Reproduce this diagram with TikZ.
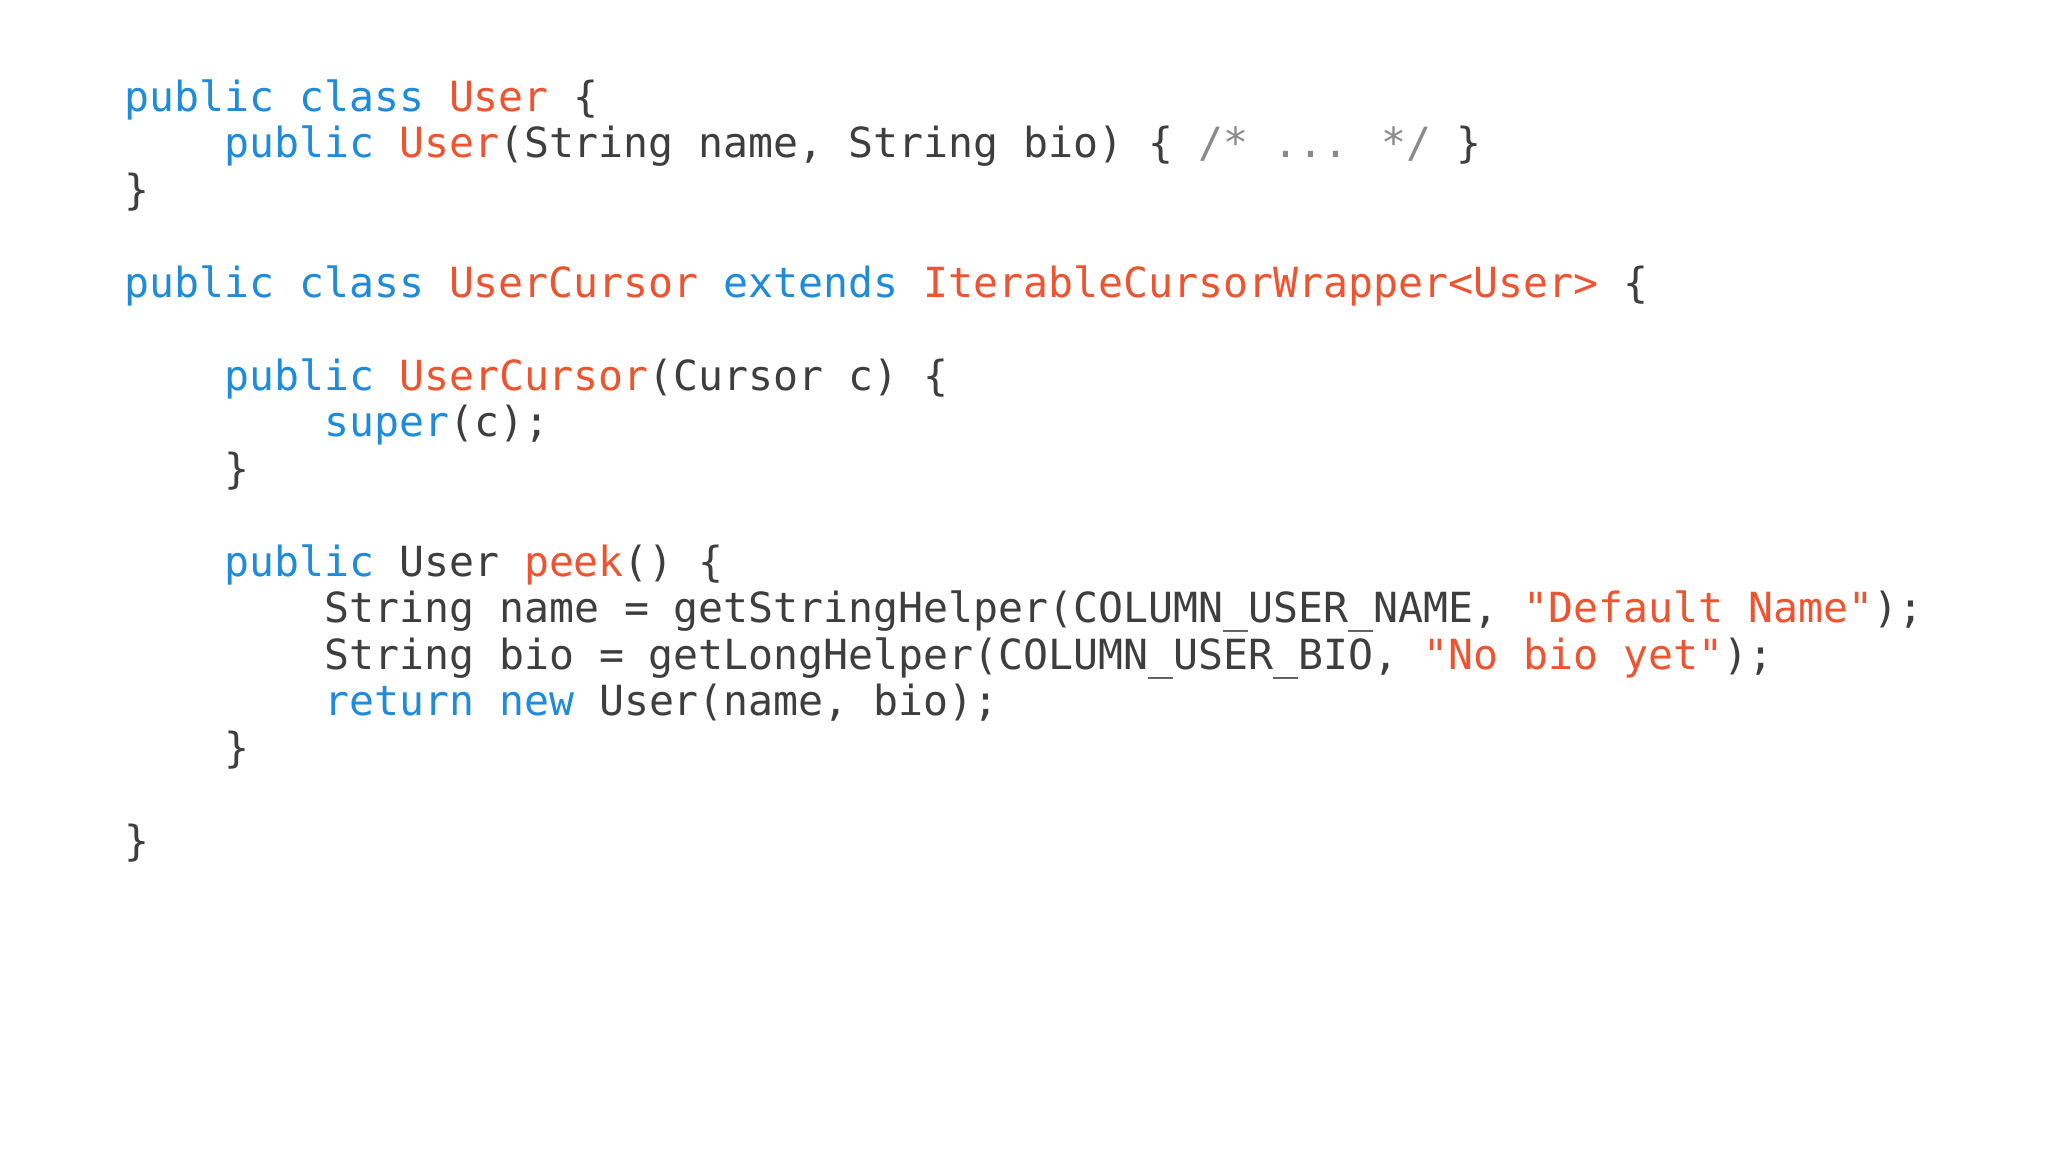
\documentclass[tikz,border=0pt]{standalone}
\usepackage{fontspec}
\newfontfamily\code{DejaVu Sans Mono}
\definecolor{kw}{HTML}{1E8BDB}
\definecolor{nm}{HTML}{EE5430}
\definecolor{tx}{HTML}{3E3E3E}
\definecolor{cm}{HTML}{8A8A8A}
\newcommand{\K}[1]{\textcolor{kw}{#1}}
\newcommand{\N}[1]{\textcolor{nm}{#1}}
\newcommand{\C}[1]{\textcolor{cm}{#1}}
\newcommand{\Q}{\char34\relax}
\begin{document}
\begin{tikzpicture}[x=1pt,y=-1pt,
  codeline/.style={anchor=base west,inner sep=0pt,font=\code\fontsize{41.5}{46}\selectfont,text=tx}]
\useasboundingbox[fill=white] (0,0) rectangle (2048,1152);
\def\ch{25.0}\def\ls{46.5}\def\xo{124}\def\yo{111}
\node[codeline] (l0) at (\xo,\yo+0*\ls) {\K{public class} \N{User} \{};
\node[codeline] (l1) at (\xo+4*\ch,\yo+1*\ls) {\K{public} \N{User}(String name, String bio) \{ \C{/* ... */} \}};
\node[codeline] (l2) at (\xo,\yo+2*\ls) {\}};
\node[codeline] (l4) at (\xo,\yo+4*\ls) {\K{public class} \N{UserCursor} \K{extends} \N{IterableCursorWrapper<User>} \{};
\node[codeline] (l6) at (\xo+4*\ch,\yo+6*\ls) {\K{public} \N{UserCursor}(Cursor c) \{};
\node[codeline] (l7) at (\xo+8*\ch,\yo+7*\ls) {\K{super}(c);};
\node[codeline] (l8) at (\xo+4*\ch,\yo+8*\ls) {\}};
\node[codeline] (l10) at (\xo+4*\ch,\yo+10*\ls) {\K{public} User \N{peek}() \{};
\node[codeline] (l11) at (\xo+8*\ch,\yo+11*\ls) {String name = getStringHelper(COLUMN\_USER\_NAME, \N{\Q Default Name\Q});};
\node[codeline] (l12) at (\xo+8*\ch,\yo+12*\ls) {String bio = getLongHelper(COLUMN\_USER\_BIO, \N{\Q No bio yet\Q});};
\node[codeline] (l13) at (\xo+8*\ch,\yo+13*\ls) {\K{return new} User(name, bio);};
\node[codeline] (l14) at (\xo+4*\ch,\yo+14*\ls) {\}};
\node[codeline] (l16) at (\xo,\yo+16*\ls) {\}};
\end{tikzpicture}
\end{document}
